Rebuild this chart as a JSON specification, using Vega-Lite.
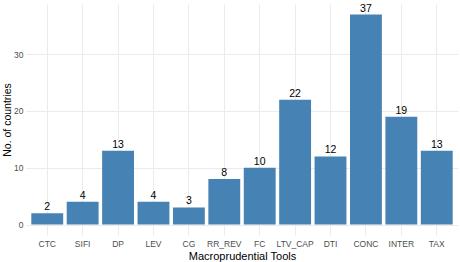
{
  "$schema": "https://vega.github.io/schema/vega-lite/v6.json",
  "width": 432,
  "height": 231,
  "autosize": {"type": "none"},
  "padding": {"left": 26, "top": 4, "right": 2, "bottom": 27},
  "background": "white",
  "config": {
    "view": {"stroke": null},
    "font": "Liberation Sans"
  },
  "data": {
    "values": [
      {"tool": "CTC", "count": 2},
      {"tool": "SIFI", "count": 4},
      {"tool": "DP", "count": 13},
      {"tool": "LEV", "count": 4},
      {"tool": "CG", "count": 3},
      {"tool": "RR_REV", "count": 8},
      {"tool": "FC", "count": 10},
      {"tool": "LTV_CAP", "count": 22},
      {"tool": "DTI", "count": 12},
      {"tool": "CONC", "count": 37},
      {"tool": "INTER", "count": 19},
      {"tool": "TAX", "count": 13}
    ]
  },
  "encoding": {
    "x": {
      "field": "tool",
      "type": "nominal",
      "sort": null,
      "scale": {"paddingInner": 0.1, "paddingOuter": 0.15},
      "axis": {
        "title": "Macroprudential Tools",
        "titleFont": "Liberation Sans",
        "titleFontSize": 11,
        "titleFontWeight": "normal",
        "titleColor": "black",
        "titlePadding": 3,
        "labelAngle": 0,
        "labelFontSize": 8.5,
        "labelColor": "#4D4D4D",
        "labelPadding": 4,
        "domain": false,
        "ticks": false,
        "grid": true,
        "gridColor": "#EBEBEB",
        "gridWidth": 1,
        "bandPosition": 0.5
      }
    }
  },
  "layer": [
    {
      "mark": {"type": "bar", "color": "#4682B4"},
      "encoding": {
        "y": {
          "field": "count",
          "type": "quantitative",
          "scale": {"domain": [-1.85, 38.85], "nice": false, "zero": false},
          "axis": {
            "title": "No. of countries",
            "titleFont": "Liberation Sans",
            "titleFontSize": 10.5,
            "titleFontWeight": "normal",
            "titleColor": "black",
            "titlePadding": 1,
            "values": [0, 5, 10, 15, 20, 25, 30, 35],
            "labelExpr": "datum.value % 10 == 0 ? datum.label : ''",
            "labelFontSize": 8.5,
            "labelColor": "#4D4D4D",
            "labelPadding": 3,
            "domain": false,
            "ticks": false,
            "grid": true,
            "gridColor": "#EBEBEB",
            "gridWidth": {"condition": {"test": "datum.value % 10 == 0", "value": 1}, "value": 0.5}
          }
        },
        "y2": {"datum": 0}
      }
    },
    {
      "mark": {"type": "text", "baseline": "bottom", "dy": -1, "fontSize": 10.5, "color": "black", "font": "Liberation Sans"},
      "encoding": {
        "y": {"field": "count", "type": "quantitative"},
        "text": {"field": "count", "type": "quantitative"}
      }
    }
  ]
}
